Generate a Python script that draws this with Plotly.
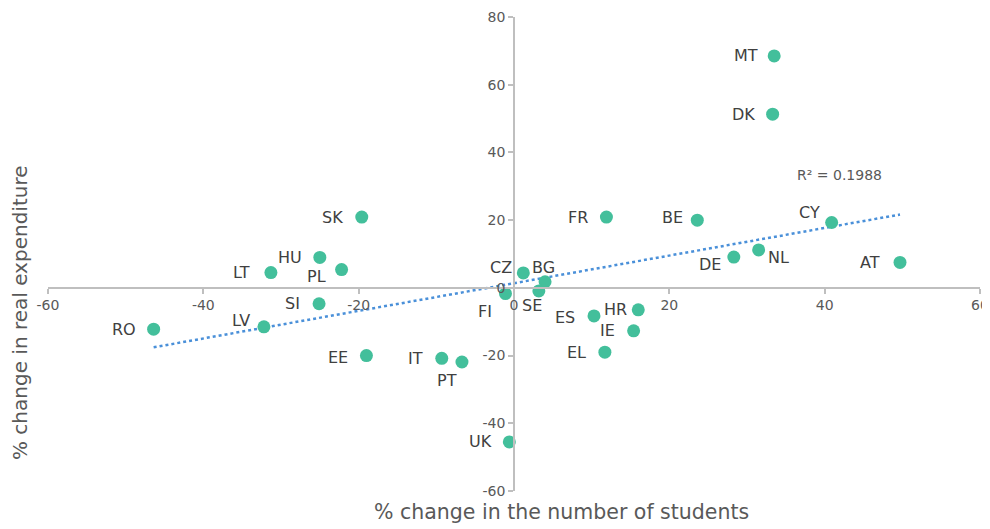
import numpy as np
import plotly.graph_objects as go

countries = ["MT", "DK", "CY", "AT", "NL", "DE", "BE", "FR", "SK", "HU", "PL", "LT", "SI",
             "LV", "RO", "EE", "IT", "PT", "FI", "UK", "CZ", "BG", "SE", "HR", "ES", "IE", "EL"]
students_change = [33.5, 33.3, 40.9, 49.7, 31.5, 28.3, 23.6, 11.9, -19.6, -25.0, -22.2, -31.3, -25.1,
                   -32.2, -46.4, -19.0, -9.3, -6.7, -1.1, -0.6, 1.2, 4.0, 3.2, 16.0, 10.3, 15.4, 11.7]
expenditure_change = [68.5, 51.3, 19.3, 7.5, 11.2, 9.1, 20.0, 20.9, 20.9, 9.0, 5.4, 4.5, -4.7,
                      -11.5, -12.2, -20.0, -20.8, -21.9, -1.7, -45.5, 4.4, 1.8, -0.9, -6.5, -8.3, -12.7, -19.0]
x_ticks = [-60, -40, -20, 0, 20, 40, 60]
x_tick_text = ["-60", "-40", "-20", "0", "20", "40", "60"]
y_ticks = [-60, -40, -20, 0, 20, 40, 60, 80]
y_tick_text = ["-60", "-40", "-20", "0", "20", "40", "60", "80"]
r2_label = "R² = 0.1988"
x_title = "% change in the number of students"
y_title = "% change in real expenditure"

# label offsets (pixels, label centre relative to marker centre; +dy = downwards)
label_offset = {
    "MT": (-28, 0), "DK": (-29, 0), "CY": (-22, -10), "AT": (-30, 0), "NL": (20, 8),
    "DE": (-24, 7), "BE": (-25, -3), "FR": (-28, 0), "SK": (-29, 0), "HU": (-30, 0),
    "PL": (-25, 7), "LT": (-29, 0), "SI": (-27, 0), "LV": (-23, -6), "RO": (-30, 0),
    "EE": (-28, 2), "IT": (-26, 0), "PT": (-15, 18), "FI": (-20, 18), "UK": (-29, 0),
    "CZ": (-22, -5), "BG": (-2, -14), "SE": (-7, 15), "HR": (-23, 0), "ES": (-29, 2),
    "IE": (-26, 0), "EL": (-28, 0),
}

xs = np.array(students_change)
ys = np.array(expenditure_change)
slope, intercept = np.polyfit(xs, ys, 1)
x_line = np.array([xs.min(), xs.max()])
y_line = slope * x_line + intercept

fig = go.Figure()
fig.add_trace(go.Scatter(
    x=x_line, y=y_line, mode="lines",
    line=dict(color="#4A90D9", width=2.5, dash="dot"),
    hoverinfo="skip", showlegend=False,
))
fig.add_trace(go.Scatter(
    x=students_change, y=expenditure_change, mode="markers",
    text=countries, hoverinfo="text+x+y",
    marker=dict(color="#43BF9B", size=13),
    showlegend=False,
))
for c, xv, yv in zip(countries, students_change, expenditure_change):
    dx, dy = label_offset[c]
    fig.add_annotation(x=xv, y=yv, xref="x", yref="y", text=c, showarrow=False,
                       xshift=dx, yshift=-dy, xanchor="center", yanchor="middle",
                       font=dict(family="DejaVu Sans", size=16, color="#404040"))

axis_common = dict(
    showgrid=False, zeroline=False, showline=True, linecolor="#BFBFBF", linewidth=1.5,
    ticks="outside", tickcolor="#BFBFBF", ticklen=5, tickwidth=1.5, automargin=False,
    tickfont=dict(family="DejaVu Sans", size=14, color="#595959"),
)
# page body has an 8px offset; target plot area in window pixels: x 48..980, y 17..491
OFF = 8
W, H = 990, 529
L, T = 48 - OFF, 17 - OFF
R = W - (980 - OFF)
B = H - (491 - OFF)
pw, ph = W - L - R, H - T - B

fig.update_layout(
    width=W, height=H,
    margin=dict(l=L, r=R, t=T, b=B),
    plot_bgcolor="white", paper_bgcolor="white",
    xaxis=dict(range=[-60, 60], tickvals=x_ticks, ticktext=x_tick_text,
               anchor="free", position=60 / 140, **axis_common),
    yaxis=dict(range=[-60, 80], tickvals=y_ticks, ticktext=y_tick_text,
               anchor="free", position=0.5, **axis_common),
)
fig.add_annotation(x=41.9, y=33.3, xref="x", yref="y", text=r2_label, showarrow=False,
                   font=dict(family="DejaVu Sans", size=14, color="#595959"))
fig.add_annotation(x=(561 - 48) / pw, y=(491 - 512) / ph, xref="paper", yref="paper",
                   text=x_title, showarrow=False, xanchor="center", yanchor="middle",
                   font=dict(family="DejaVu Sans", size=20.5, color="#595959"))
fig.add_annotation(x=(20 - 48) / pw, y=(491 - 313) / ph, xref="paper", yref="paper",
                   text=y_title, textangle=-90, showarrow=False,
                   xanchor="center", yanchor="middle",
                   font=dict(family="DejaVu Sans", size=20, color="#595959"))
fig.write_html("out.html")
